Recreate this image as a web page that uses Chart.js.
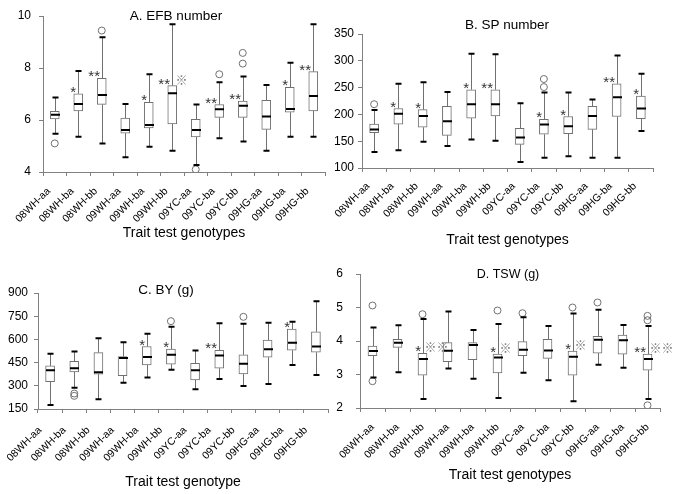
<!DOCTYPE html>
<html>
<head>
<meta charset="utf-8">
<script src="https://cdn.jsdelivr.net/npm/chart.js@4.4.1/dist/chart.umd.min.js"></script>
<style>
html, body { margin: 0; padding: 0; background: #fff; }
#wrap { position: relative; width: 675px; height: 494px; }
canvas { position: absolute; left: 0; top: 0; }
</style>
</head>
<body>
<div id="wrap">
<canvas id="cA" width="675" height="494"></canvas>
<canvas id="cB" width="675" height="494"></canvas>
<canvas id="cC" width="675" height="494"></canvas>
<canvas id="cD" width="675" height="494"></canvas>
</div>
<script>
// genotype categories, shared by the four panels
var cats = ['08WH-aa', '08WH-ba', '08WH-bb', '09WH-aa', '09WH-ba', '09WH-bb',
            '09YC-aa', '09YC-ba', '09YC-bb', '09HG-aa', '09HG-ba', '09HG-bb'];

// A. EFB number
var minA = [5.47, 5.36, 5.10, 4.57, 4.97, 4.82, 4.27, 5.30, 5.17, 4.82, 5.36, 5.36];
var q1A  = [6.04, 6.35, 6.60, 5.49, 5.70, 5.85, 5.35, 6.10, 6.10, 5.64, 6.30, 6.35];
var medA = [6.20, 6.62, 6.96, 5.62, 5.81, 7.03, 5.62, 6.41, 6.55, 6.13, 6.42, 6.92];
var q3A  = [6.33, 7.01, 7.60, 6.07, 6.68, 7.32, 6.03, 6.59, 6.73, 6.76, 7.26, 7.86];
var maxA = [6.87, 7.88, 9.18, 6.62, 7.76, 9.68, 6.60, 7.45, 7.67, 7.35, 8.20, 9.68];
var outA = [[5.10], [], [9.44], [], [], [], [4.10], [7.76], [8.58, 8.17], [], [], []];
var starA = ['', '*', '**', '', '*', '**', '', '**', '**', '', '*', '**'];
var refA  = ['', '', '', '', '', '\u203B', '', '', '', '', '', ''];
var ticksA = [4, 10, 2];

// B. SP number
var minB = [130, 133, 149, 141, 153, 151, 111, 119, 122, 119, 119, 169];
var q1B  = [166, 182, 176, 161, 193, 197, 144, 163, 164, 172, 196, 192];
var medB = [172, 201, 197, 187, 219, 219, 157, 181, 178, 197, 232, 211];
var q3B  = [182, 211, 209, 215, 246, 246, 174, 191, 196, 215, 257, 234];
var maxB = [208, 257, 260, 242, 313, 312, 221, 241, 241, 228, 310, 276];
var outB = [[219], [], [], [], [], [], [], [266, 251], [], [], [], []];
var starB = ['', '*', '*', '', '*', '**', '', '*', '*', '', '**', '*'];
var refB  = ['', '', '', '', '', '', '', '', '', '', '', ''];
var ticksB = [100, 350, 50];

// C. BY (g)
var minC = [176, 288, 213, 320, 353, 403, 277, 344, 299, 312, 435, 370];
var q1C  = [327, 390, 375, 366, 435, 440, 338, 414, 377, 485, 530, 517];
var medC = [401, 414, 388, 480, 487, 500, 401, 496, 442, 537, 578, 554];
var q3C  = [429, 459, 515, 489, 554, 537, 446, 530, 500, 595, 667, 649];
var maxC = [508, 521, 608, 582, 636, 681, 528, 705, 701, 707, 714, 846];
var outC = [[], [250, 235], [], [], [], [718], [], [], [746], [], [], []];
var starC = ['', '', '', '', '*', '*', '', '**', '', '', '*', ''];
var refC  = ['', '', '', '', '', '', '', '', '', '', '', ''];
var ticksC = [150, 900, 150];

// D. TSW (g)
var minD = [2.91, 3.07, 2.27, 3.18, 2.87, 2.30, 3.05, 2.83, 2.20, 3.29, 3.20, 2.27];
var q1D  = [3.56, 3.81, 2.98, 3.38, 3.44, 3.05, 3.56, 3.48, 2.98, 3.64, 3.61, 3.13];
var medD = [3.70, 3.95, 3.46, 3.71, 3.88, 3.51, 3.74, 3.72, 3.53, 4.04, 4.02, 3.46];
var q3D  = [3.85, 4.05, 3.63, 3.95, 3.95, 3.61, 3.98, 4.05, 3.70, 4.14, 4.18, 3.61];
var maxD = [4.40, 4.47, 4.66, 4.88, 4.33, 4.51, 4.71, 4.45, 4.82, 4.93, 4.48, 4.45];
var outD = [[5.06, 2.80], [], [4.80], [], [], [4.91], [4.83], [], [5.00], [5.15], [], [4.75, 4.62, 2.08]];
var starD = ['', '', '*', '', '', '*', '', '', '*', '', '', '**'];
var refD  = ['', '', '\u203B\u203B', '', '', '\u203B', '', '', '\u203B', '', '', '\u203B\u203B'];
var ticksD = [2, 6, 1];

Chart.defaults.font.family = "'Liberation Sans', Arial, sans-serif";
Chart.defaults.color = '#000';

var GREY = '#808080';
var BOXGREY = '#707070';

function makePanel(id, d)
{
    // whiskers, caps, medians, significance marks and panel title
    var extras = {
        id: 'extras' + id,
        afterDatasetsDraw: function (chart)
        {
            var x = chart.scales.x, y = chart.scales.y, ctx = chart.ctx;
            var half = 4.5, cap = 3;
            ctx.save();
            for (var i = 0; i < cats.length; i++)
            {
                var cx = Math.round(x.getPixelForValue(i)) + 0.5;
                ctx.strokeStyle = BOXGREY;
                ctx.lineWidth = 1;
                ctx.beginPath();
                ctx.moveTo(cx, y.getPixelForValue(d.q3[i]));
                ctx.lineTo(cx, y.getPixelForValue(d.max[i]));
                ctx.moveTo(cx, y.getPixelForValue(d.q1[i]));
                ctx.lineTo(cx, y.getPixelForValue(d.min[i]));
                ctx.stroke();

                ctx.strokeStyle = '#000';
                ctx.lineWidth = 2;
                ctx.beginPath();
                var yt = y.getPixelForValue(d.max[i]), yb = y.getPixelForValue(d.min[i]);
                ctx.moveTo(cx - cap, yt); ctx.lineTo(cx + cap, yt);
                ctx.moveTo(cx - cap, yb); ctx.lineTo(cx + cap, yb);
                var ym = y.getPixelForValue(d.med[i]);
                ctx.moveTo(cx - half, ym); ctx.lineTo(cx + half, ym);
                ctx.stroke();

                var yq = y.getPixelForValue(d.q3[i]);
                if (d.star[i])
                {
                    ctx.font = "15px 'Liberation Sans', Arial, sans-serif";
                    ctx.fillStyle = '#333';
                    ctx.textAlign = 'right';
                    ctx.textBaseline = 'alphabetic';
                    ctx.fillText(d.star[i], cx - 2.5, yq + 3);
                }
                if (d.ref[i])
                {
                    ctx.font = "12px 'Noto Sans CJK SC', sans-serif";
                    ctx.fillStyle = '#777';
                    ctx.textAlign = 'left';
                    ctx.textBaseline = 'middle';
                    ctx.fillText(d.ref[i], cx + d.refGap, yq - 5.5);
                }
            }
            ctx.font = d.titleSize + "px 'Liberation Sans', Arial, sans-serif";
            ctx.fillStyle = '#000';
            ctx.textAlign = 'center';
            ctx.textBaseline = 'middle';
            ctx.fillText(d.title, d.titleX, d.titleY);
            ctx.restore();
        }
    };

    var points = [];
    d.out.forEach(function (vals, i)
    {
        vals.forEach(function (v) { points.push({ x: cats[i], y: v }); });
    });

    return new Chart(document.getElementById(id).getContext('2d'), {
        type: 'bar',
        data: {
            labels: cats,
            datasets: [{
                data: d.q1.map(function (v, i) { return [v, d.q3[i]]; }),
                backgroundColor: '#fff',
                borderColor: BOXGREY,
                borderWidth: 1,
                borderSkipped: false,
                barThickness: 9
            }, {
                type: 'line',
                data: points,
                showLine: false,
                pointRadius: 3.5,
                pointBackgroundColor: 'rgba(255,255,255,0)',
                pointBorderColor: BOXGREY,
                pointBorderWidth: 1
            }]
        },
        options: {
            responsive: false,
            animation: false,
            layout: { padding: d.pad },
            plugins: { legend: { display: false }, tooltip: { enabled: false } },
            scales: {
                x: {
                    offset: true,
                    grid: { offset: true, drawOnChartArea: false, tickLength: 4, color: GREY },
                    border: { color: GREY },
                    ticks: {
                        autoSkip: false, minRotation: 45, maxRotation: 45,
                        padding: d.xPad, labelOffset: d.xShift, font: { size: 10.5 }
                    },
                    title: { display: true, text: d.xTitle, font: { size: 14 }, padding: { top: 0, bottom: d.titlePad } },
                    afterFit: function (s) { s.height = d.xH; }
                },
                y: {
                    min: d.ticks[0],
                    max: d.ticks[1],
                    grid: { drawOnChartArea: false, tickLength: 4, color: GREY },
                    border: { color: GREY },
                    ticks: { stepSize: d.ticks[2], padding: d.yPad, font: { size: 12 } },
                    afterFit: function (s) { s.width = d.yW; }
                }
            }
        },
        plugins: [extras]
    });
}

makePanel('cA', {
    min: minA, q1: q1A, med: medA, q3: q3A, max: maxA, out: outA, star: starA, ref: refA, ticks: ticksA,
    refGap: 3, title: 'A. EFB number', titleSize: 13.5, titleX: 176, titleY: 16,
    xTitle: 'Trait test genotypes', pad: { left: 3, top: 16, right: 350, bottom: 247 },
    yW: 40, yPad: 8, xH: 75, titlePad: 5.6, xPad: 9, xShift: -6
});
makePanel('cB', {
    min: minB, q1: q1B, med: medB, q3: q3B, max: maxB, out: outB, star: starB, ref: refB, ticks: ticksB,
    refGap: 3, title: 'B. SP number', titleSize: 13.5, titleX: 507, titleY: 25,
    xTitle: 'Trait test genotypes', pad: { left: 322, top: 34, right: 22, bottom: 245 },
    yW: 40, yPad: 4, xH: 81, titlePad: 0, xPad: 8, xShift: -6
});
makePanel('cC', {
    min: minC, q1: q1C, med: medC, q3: q3C, max: maxC, out: outC, star: starC, ref: refC, ticks: ticksC,
    refGap: 3, title: 'C. BY (g)', titleSize: 13.5, titleX: 166, titleY: 290,
    xTitle: 'Trait test genotype', pad: { left: 2, top: 293, right: 347, bottom: 0 },
    yW: 36, yPad: 6, xH: 85, titlePad: 3.9, xPad: 11, xShift: -10
});
makePanel('cD', {
    min: minD, q1: q1D, med: medD, q3: q3D, max: maxD, out: outD, star: starD, ref: refD, ticks: ticksD,
    refGap: 1, title: 'D. TSW (g)', titleSize: 12.5, titleX: 508, titleY: 275,
    xTitle: 'Trait test genotypes', pad: { left: 320, top: 274, right: 15, bottom: 0 },
    yW: 40, yPad: 13, xH: 86, titlePad: 10.6, xPad: 9, xShift: 0
});
</script>
</body>
</html>
